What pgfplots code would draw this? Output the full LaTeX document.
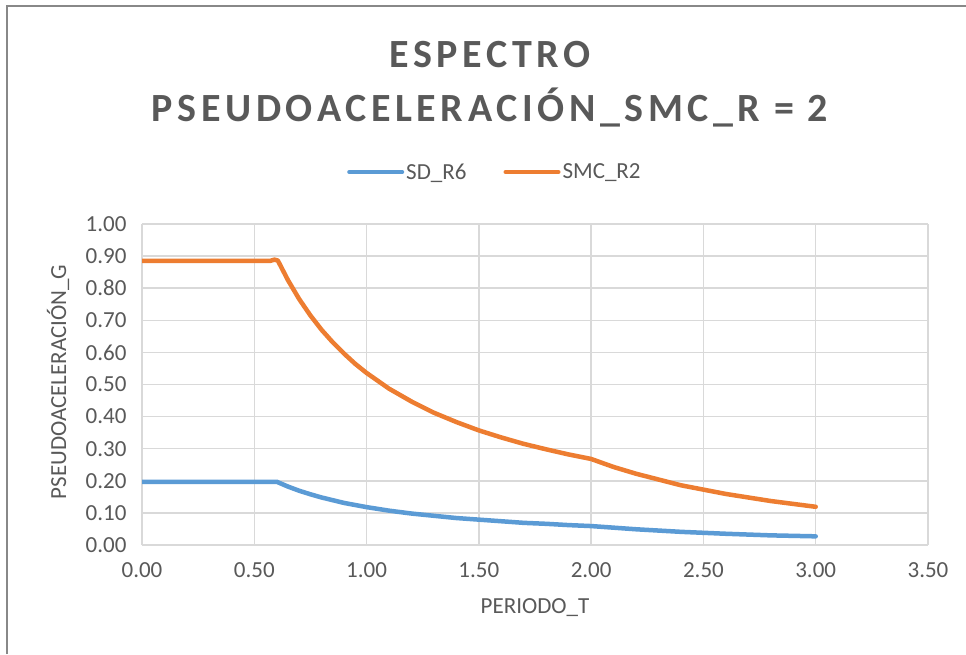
\documentclass[border=0pt]{standalone}
\usepackage{fontspec}
\setmainfont{Carlito}
\newfontfamily\titlefont[LetterSpace=11.5]{Carlito}
\usepackage{pgfplots}
\pgfplotsset{compat=1.18}
\definecolor{txt}{HTML}{595959}
\definecolor{gridc}{HTML}{D9D9D9}
\definecolor{sdblue}{HTML}{5B9BD5}
\definecolor{smcor}{HTML}{ED7D31}
\definecolor{frame}{HTML}{888888}
\newcommand{\fs}{\fontsize{23}{27}\selectfont}
\begin{document}
\begin{tikzpicture}
\useasboundingbox (0pt,0pt) rectangle (966pt,654pt);
\fill[white] (0pt,0pt) rectangle (966pt,654pt);
\draw[frame, line width=2pt] (6.5pt,0pt) -- (6.5pt,647.5pt) -- (966pt,647.5pt);
\begin{axis}[
  at={(142pt,109pt)}, anchor=south west,
  scale only axis, width=786pt, height=321pt,
  xmin=0, xmax=3.5, ymin=0, ymax=1,
  xtick={0,0.5,1,1.5,2,2.5,3,3.5},
  ytick={0,0.1,0.2,0.3,0.4,0.5,0.6,0.7,0.8,0.9,1},
  grid=major,
  major grid style={color=gridc, line width=1.5pt},
  axis line style={draw=none},
  major tick length=0pt,
  ticklabel style={font=\fs, text=txt},
  xticklabel style={yshift=-14pt},
  yticklabel style={xshift=-12pt},
  /pgf/number format/.cd, fixed, fixed zerofill, precision=2, assume math mode=true,
  /pgfplots/.cd,
  legend columns=2,
  legend style={at={(axis description cs:0.449,1.162)}, anchor=center, draw=none, fill=none, font=\fs, text=txt,
    /tikz/every even column/.append style={column sep=35pt}},
  legend image code/.code={\draw[#1, line width=4pt, line cap=round] (0pt,0pt) -- (53pt,0pt);},
]
\addplot[sdblue, line width=4.5pt, line join=round, line cap=round] coordinates {
(0,0.197) (0.1,0.197) (0.2,0.197) (0.3,0.197) (0.4,0.197) (0.5,0.197) (0.58,0.197) (0.6,0.197)
(0.65,0.182) (0.7,0.169) (0.75,0.158) (0.8,0.148) (0.9,0.131) (1.0,0.118) (1.1,0.107) (1.2,0.098)
(1.3,0.091) (1.4,0.084) (1.5,0.079) (1.6,0.074) (1.7,0.069) (1.8,0.066) (1.9,0.062) (2.0,0.059)
(2.2,0.049) (2.4,0.041) (2.6,0.035) (2.8,0.030) (3.0,0.027)
};
\addlegendentry{SD\_R6}
\addplot[smcor, line width=4.5pt, line join=round, line cap=round] coordinates {
(0,0.885) (0.1,0.885) (0.2,0.885) (0.3,0.885) (0.4,0.885) (0.5,0.885) (0.57,0.885) (0.59,0.889) (0.605,0.886)
(0.65,0.825) (0.7,0.766) (0.75,0.715) (0.8,0.670) (0.85,0.631) (0.9,0.596) (0.95,0.564) (1.0,0.536)
(1.1,0.487) (1.2,0.447) (1.3,0.412) (1.4,0.383) (1.5,0.357) (1.6,0.335) (1.7,0.315) (1.8,0.298)
(1.9,0.282) (2.0,0.268) (2.1,0.243) (2.2,0.222) (2.4,0.186) (2.6,0.159) (2.8,0.137) (3.0,0.119)
};
\addlegendentry{SMC\_R2}
\end{axis}
\node[text=txt, font=\titlefont\bfseries\fontsize{40}{46}\selectfont] at (490pt,599pt) {ESPECTRO};
\node[text=txt, font=\titlefont\bfseries\fontsize{40}{46}\selectfont] at (490pt,547pt) {PSEUDOACELERACIÓN\_SMC\_R = 2};
\node[text=txt, font=\fs] at (535pt,46pt) {PERIODO\_T};
\node[text=txt, font=\fs, rotate=90] at (58pt,272pt) {PSEUDOACELERACIÓN\_G};
\end{tikzpicture}
\end{document}
